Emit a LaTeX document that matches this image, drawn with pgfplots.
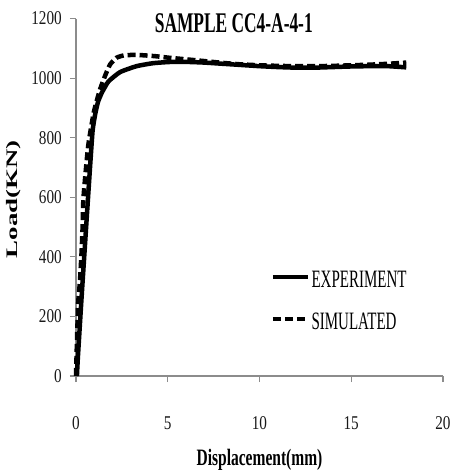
\documentclass[border=0pt]{standalone}
\usepackage{pgfplots}
\pgfplotsset{compat=1.18}
\usepackage{fontspec}
\setmainfont{Liberation Serif}
\newfontfamily\tickfont{Liberation Serif}[FakeStretch=0.78]
\newfontfamily\titlefont{Liberation Serif}[FakeStretch=0.61]
\newfontfamily\legfont{Liberation Serif}[FakeStretch=0.6]
\newfontfamily\xlabfont{Liberation Serif}[FakeStretch=0.66]
\newfontfamily\ylabfont{Liberation Serif}[FakeStretch=1.68]
\definecolor{axgray}{RGB}{140,140,140}
\begin{document}
\begin{tikzpicture}
\path[use as bounding box] (-76pt,-96pt) rectangle (376pt,376pt);
\begin{axis}[
  scale only axis, width=367pt, height=357.5pt,
  xmin=0, xmax=20, ymin=0, ymax=1200,
  axis x line=bottom, axis y line=left,
  axis line style={draw=axgray, line width=1.3pt, -},
  xtick={0,5,10,15,20}, ytick={0,200,400,600,800,1000,1200},
  tick style={draw=axgray, line width=1.1pt},
  tick align=outside,
  major tick length=6pt,
  /pgf/number format/assume math mode=true,
  /pgf/number format/1000 sep={},
  tick label style={font=\tickfont\fontsize{19.5}{20}\selectfont, text=black!90},
  yticklabel style={anchor=east, inner sep=0pt, xshift=-8pt},
  xticklabel style={anchor=center, inner sep=0pt, yshift=-41pt},
  xlabel={Displacement(mm)},
  xlabel style={font=\xlabfont\bfseries\fontsize{23.5}{25}\selectfont, at={(rel axis cs:0.5,0)}, anchor=center, yshift=-84pt},
  ylabel={Load(KN)},
  ylabel style={font=\ylabfont\bfseries\fontsize{16}{18}\selectfont, at={(rel axis cs:0,0.495)}, anchor=center, yshift=62pt},
  legend style={draw=none, fill=none, inner sep=0pt, outer sep=0pt,
    at={(rel axis cs:0.530,0.295)}, anchor=north west,
    font=\legfont\fontsize{25}{26}\selectfont, row sep=25pt, column sep=1.5pt,
    nodes={inner sep=0pt, text height=17pt, text depth=0pt}},
  legend cell align=left,
  legend image code/.code={\draw[#1] (0pt,2pt) -- (35pt,2pt);},
  clip=false,
]
\addplot[black, line width=4.5pt, line join=round, smooth, tension=0.3] coordinates {
(0.05,0)(0.1,60)(0.3,260)(0.5,450)(0.7,640)(0.9,820)(1.05,880)(1.2,920)(1.4,950)
(1.76,988)(2.4,1020)(3.3,1040)(4.2,1050)(5.1,1054)(6.2,1054)(7,1052)(8,1048)
(9,1044)(10,1040)(11,1037)(12,1035)(13,1035)(14,1037)(15,1039)(16,1040)(17,1040)(18,1036)
};
\addlegendentry{EXPERIMENT}
\addplot[black, line width=4.5pt, dash pattern=on 8pt off 4pt, smooth, tension=0.3] coordinates {
(0,0)(0.05,110)(0.12,245)(0.22,322)(0.31,423)(0.36,500)(0.4,590)(0.49,660)(0.67,775)
(0.97,885)(1.3,960)(1.6,1010)(1.85,1045)(2.2,1068)(2.6,1076)(3.2,1078)(3.8,1076)
(4.4,1073)(5.1,1068)(6,1063)(7,1057)(8,1051)(9,1046)(10,1043)(11,1041)(12,1040)
(13,1040)(14,1041)(15,1043)(16,1045)(17,1048)(18,1052)
};
\addlegendentry{SIMULATED}
\node[font=\titlefont\bfseries\fontsize{28.5}{30}\selectfont, inner sep=0pt] at (axis cs:8.6,1183) {SAMPLE CC4-A-4-1};
\end{axis}
\end{tikzpicture}
\end{document}
